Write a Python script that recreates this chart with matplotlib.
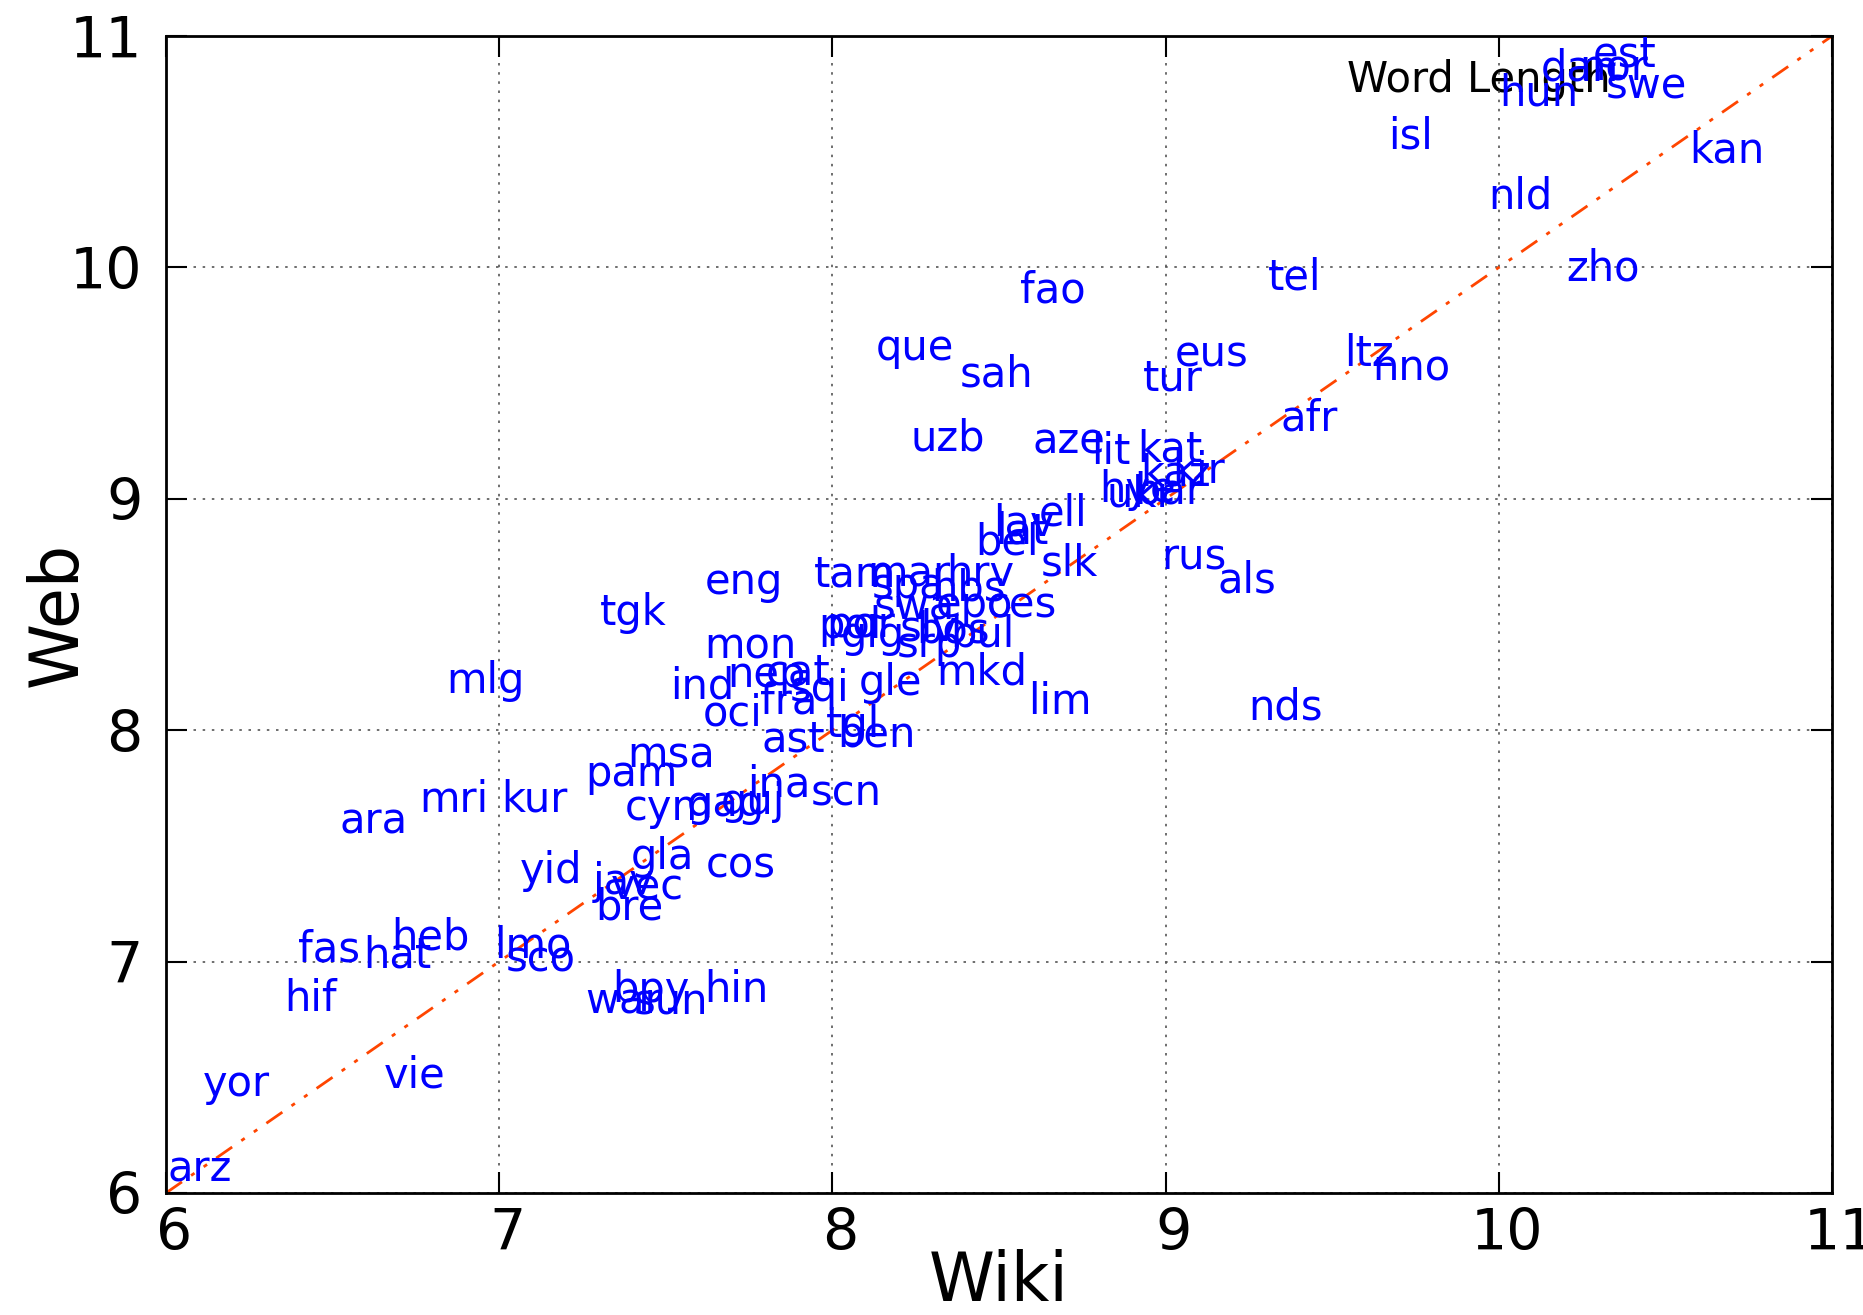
import matplotlib
matplotlib.use("Agg")
import matplotlib.pyplot as plt
import matplotlib.transforms as mtrans

langs = ["est", "dan", "nor", "hun", "swe", "isl", "kan", "nld", "zho", "tel",
         "fao", "que", "sah", "eus", "tur", "ltz", "nno", "afr", "uzb", "aze",
         "lit", "kat", "kaz", "kir", "hye", "ukr", "bar", "ell", "lav", "lat",
         "bel", "slk", "rus", "als", "eng", "tgk", "tam", "mar", "hrv", "spa",
         "hbs", "swa", "epo", "ces", "pol", "por", "glg", "slv", "bos", "srp",
         "bul", "mon", "mkd", "ind", "nep", "cat", "sqi", "gle", "fra", "oci",
         "tgl", "ast", "ben", "lim", "nds", "mlg", "msa", "pam", "mri", "kur",
         "ara", "cym", "gag", "guj", "ina", "scn", "gla", "cos", "yid", "jav",
         "vec", "bre", "fas", "heb", "hat", "lmo", "sco", "hif", "bpy", "hin",
         "war", "sun", "yor", "vie", "arz"]
wiki = [10.376, 10.244, 10.344, 10.119, 10.444, 9.734, 10.683, 10.066, 10.312, 9.388,
        8.660, 8.247, 8.493, 9.138, 9.021, 9.609, 9.738, 9.431, 8.347, 8.710,
        8.835, 9.014, 9.031, 9.100, 8.915, 8.925, 9.010, 8.692, 8.575, 8.568,
        8.525, 8.710, 9.085, 9.245, 7.733, 7.402, 8.068, 8.229, 8.443, 8.229,
        8.407, 8.247, 8.425, 8.568, 8.051, 8.085, 8.122, 8.290, 8.362, 8.290,
        8.450, 7.755, 8.447, 7.608, 7.801, 7.897, 7.961, 8.175, 7.869, 7.701,
        8.061, 7.883, 8.133, 8.682, 9.359, 6.959, 7.516, 7.398, 6.863, 7.106,
        6.624, 7.509, 7.680, 7.760, 7.840, 8.040, 7.491, 7.726, 7.156, 7.373,
        7.444, 7.391, 6.489, 6.795, 6.695, 7.102, 7.123, 6.435, 7.455, 7.712,
        7.373, 7.516, 6.210, 6.745, 6.100]
web = [10.920, 10.860, 10.860, 10.750, 10.780, 10.564, 10.507, 10.307, 9.994, 9.958,
       9.901, 9.650, 9.537, 9.629, 9.522, 9.624, 9.563, 9.347, 9.260, 9.249,
       9.203, 9.214, 9.111, 9.120, 9.039, 9.020, 9.030, 8.936, 8.895, 8.859,
       8.813, 8.721, 8.752, 8.649, 8.639, 8.505, 8.675, 8.675, 8.675, 8.624,
       8.613, 8.531, 8.541, 8.541, 8.449, 8.455, 8.413, 8.440, 8.430, 8.370,
       8.415, 8.361, 8.248, 8.187, 8.238, 8.248, 8.177, 8.202, 8.125, 8.074,
       8.023, 7.961, 7.982, 8.120, 8.100, 8.212, 7.889, 7.812, 7.699, 7.699,
       7.607, 7.663, 7.680, 7.690, 7.766, 7.725, 7.453, 7.417, 7.391, 7.345,
       7.319, 7.232, 7.052, 7.104, 7.027, 7.068, 7.011, 6.837, 6.878, 6.878,
       6.826, 6.826, 6.472, 6.508, 6.103]

diag = [6, 11]
ticks = [6, 7, 8, 9, 10, 11]
tick_labels = ["6", "7", "8", "9", "10", "11"]

plt.rcParams['font.family'] = ['DejaVu Sans']
fig = plt.figure(figsize=(18.63, 13.15), dpi=100)
ax = fig.add_axes([0.0891, 0.0928, 0.9834 - 0.0891, 0.9726 - 0.0928])
ax.set_xlim(6, 11)
ax.set_ylim(6, 11)

ax.plot(diag, diag, color='#ff4500', lw=2, linestyle=(0, (7, 4, 1.5, 4, 1.5, 4)), zorder=2)

for name, x, y in zip(langs, wiki, web):
    ax.text(x, y, name, color='#0000ff', fontsize=30, ha='center', va='center', zorder=3)

ax.text(0.709, 0.962, "Word Length", transform=ax.transAxes, fontsize=30,
        ha='left', va='center', color='black', zorder=1)

ax.set_xticks(ticks)
ax.set_xticklabels(tick_labels)
ax.set_yticks(ticks)
ax.set_yticklabels(tick_labels)
ax.tick_params(direction='in', length=15, width=1.5, labelsize=41,
               top=True, right=True, pad=10)
ax.tick_params(axis='y', pad=17)
offset = mtrans.ScaledTranslation(8 / 100, 0, fig.dpi_scale_trans)
for lbl in ax.get_xticklabels():
    lbl.set_transform(lbl.get_transform() + offset)
ax.grid(True, color='#555555', linestyle=(0, (1.5, 4)), linewidth=1.2)
for s in ax.spines.values():
    s.set_linewidth(2)

ax.set_xlabel("Wiki", fontsize=48, va='top')
ax.xaxis.set_label_coords(0.5, -0.048)
ax.set_ylabel("Web", fontsize=48)
ax.yaxis.set_label_coords(-0.045, 0.5)

fig.savefig("out.png", dpi=100)
